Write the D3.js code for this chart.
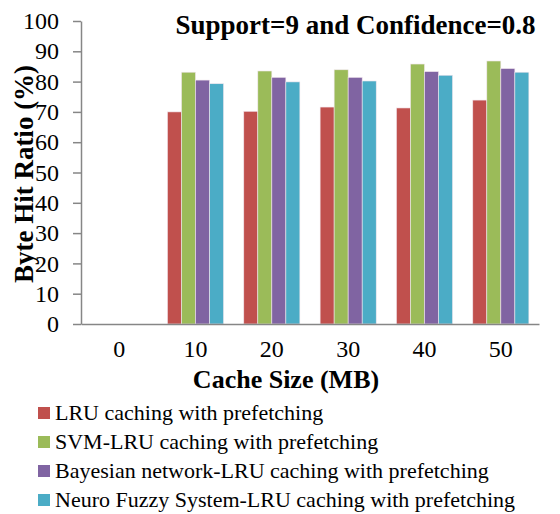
<!DOCTYPE html>
<html>
<head>
<meta charset="utf-8">
<script src="https://cdn.jsdelivr.net/npm/d3@7"></script>
<style>
  body { margin: 0; background: #fff; }
</style>
</head>
<body>
<div id="chart"></div>
<script>
// cache sizes (MB)
const categories = ["0", "10", "20", "30", "40", "50"];
const seriesNames = [
  "LRU caching with prefetching",
  "SVM-LRU caching with prefetching",
  "Bayesian network-LRU caching with prefetching",
  "Neuro Fuzzy System-LRU caching with prefetching"
];
// byte hit ratio (%) per series, one value per category (null = no bar)
const lruValues   = [null, 70.0, 70.2, 71.6, 71.3, 73.9];
const svmValues   = [null, 83.1, 83.5, 83.9, 85.8, 86.8];
const bayesValues = [null, 80.5, 81.4, 81.4, 83.3, 84.3];
const neuroValues = [null, 79.3, 79.9, 80.2, 82.1, 83.1];
const yTicks = [0, 10, 20, 30, 40, 50, 60, 70, 80, 90, 100];
const colors = ["#C0504D", "#9BBB59", "#8064A2", "#4BACC6"];

const allSeries = [lruValues, svmValues, bayesValues, neuroValues];
const FONT = "Liberation Serif";

const width = 560, height = 514;
const margin = { left: 81, right: 21, top: 21, bottom: 190 };

const svg = d3.select("#chart")
  .append("svg")
  .attr("width", width)
  .attr("height", height);

// text helper: centred by measuring, so no text-anchor is needed
function centredText(parent, cx, cy, size, bold, str) {
  const t = parent.append("text")
    .attr("font-family", FONT)
    .attr("font-size", size)
    .attr("font-weight", bold ? "bold" : null)
    .text(str);
  const w = t.node().getComputedTextLength();
  t.attr("x", cx - w / 2).attr("y", cy);
  return t;
}

const x = d3.scaleBand()
  .domain(categories)
  .range([margin.left, width - margin.right])
  .paddingInner(0.265)
  .paddingOuter(0.1325);

const xSub = d3.scaleBand()
  .domain(d3.range(seriesNames.length))
  .range([0, x.bandwidth()]);

const y = d3.scaleLinear()
  .domain([0, 100])
  .range([height - margin.bottom, margin.top]);

// bars
allSeries.forEach((vals, si) => {
  svg.append("g")
    .selectAll("rect")
    .data(vals.map((v, i) => ({ cat: categories[i], v })).filter(d => d.v != null))
    .enter()
    .append("rect")
    .attr("x", d => x(d.cat) + xSub(si))
    .attr("y", d => y(d.v))
    .attr("width", xSub.bandwidth())
    .attr("height", d => y(0) - y(d.v))
    .style("fill", colors[si])
    .style("stroke", "#f2e6ee")
    .style("stroke-width", 0.6);
});

// y axis
const yAxis = svg.append("g")
  .attr("transform", `translate(${margin.left},0)`)
  .call(d3.axisLeft(y).tickValues(yTicks).tickSize(8).tickSizeOuter(0).tickPadding(14));
yAxis.attr("font-family", FONT).attr("font-size", 24);
yAxis.select(".domain").attr("stroke", "#868686").attr("stroke-width", 1.5);
yAxis.selectAll(".tick line").attr("stroke", "#868686").attr("stroke-width", 1.5);
yAxis.selectAll(".tick text").attr("fill", "#000").attr("font-family", FONT);

// x axis (labels centred by hand)
const xAxis = svg.append("g")
  .attr("transform", `translate(0,${y(0)})`)
  .call(d3.axisBottom(x).tickSize(0).tickPadding(16));
xAxis.attr("font-family", FONT).attr("font-size", 24).attr("text-anchor", null);
xAxis.select(".domain").attr("stroke", "#868686").attr("stroke-width", 1.5);
xAxis.selectAll(".tick text")
  .attr("fill", "#000")
  .attr("font-family", FONT)
  .attr("text-anchor", "start")
  .each(function () {
    const w = this.getComputedTextLength();
    d3.select(this).attr("x", -w / 2);
  });

// title
centredText(svg, 355.5, 34, 27, true, "Support=9 and Confidence=0.8");

// axis titles
centredText(svg, 286, 388, 26, true, "Cache Size (MB)");

const yTitle = svg.append("g").attr("transform", "translate(33,174) rotate(-90)");
centredText(yTitle, 0, 0, 27, true, "Byte Hit Ratio (%)");

// legend
const legend = svg.append("g");
seriesNames.forEach((name, i) => {
  const base = 420 + i * 29;
  legend.append("rect")
    .attr("x", 38)
    .attr("y", base - 13)
    .attr("width", 12)
    .attr("height", 12)
    .style("fill", colors[i]);
  legend.append("text")
    .attr("x", 55)
    .attr("y", base)
    .attr("font-family", FONT)
    .attr("font-size", 22)
    .text(name);
});
</script>
</body>
</html>
